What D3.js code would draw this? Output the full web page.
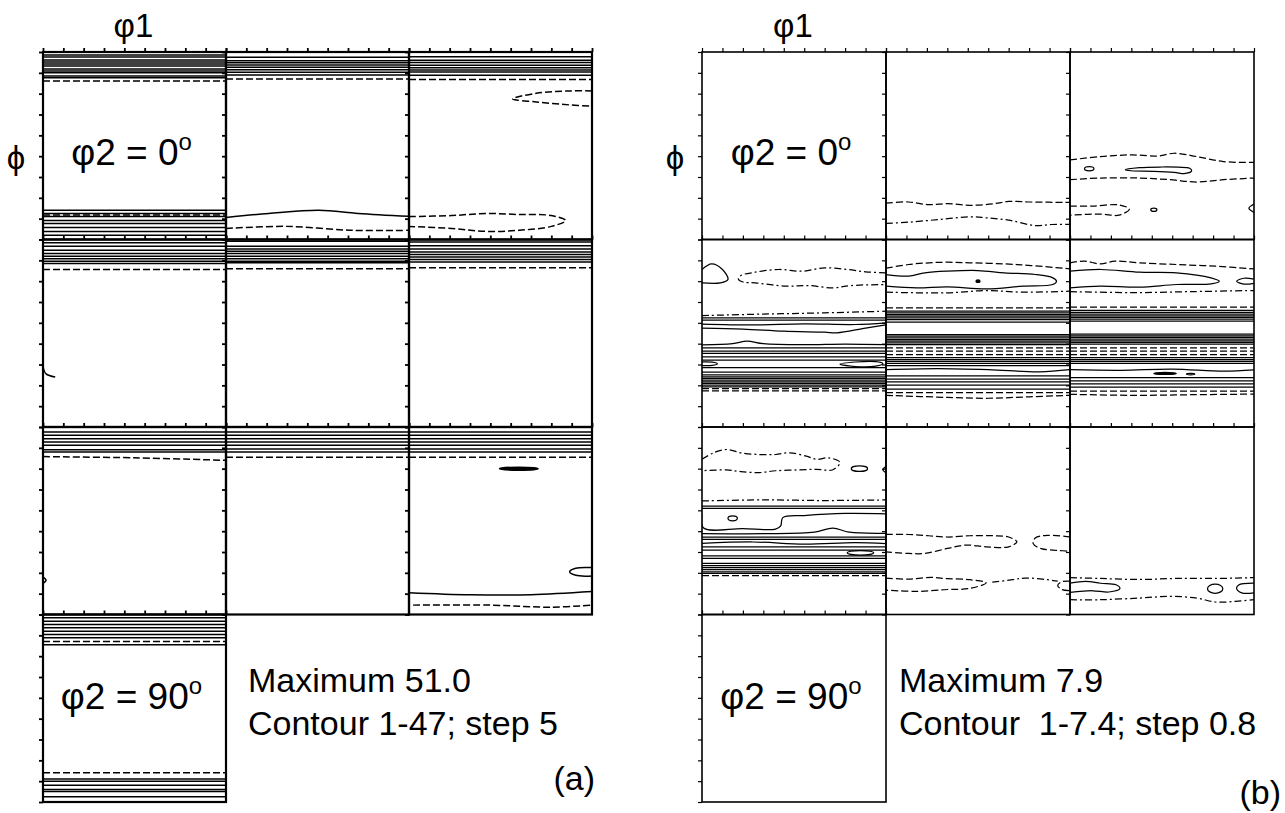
<!DOCTYPE html>
<html><head><meta charset="utf-8">
<script src="https://cdn.jsdelivr.net/npm/d3@7"></script>
<style>
body{margin:0;background:#fff}
svg{display:block}
text{font-family:"Liberation Sans",Arial,Helvetica,sans-serif;fill:#000}
</style>
</head><body>
<svg id="c" width="1285" height="813"></svg>
<script>
// ================= DATA =================
// phi2 sections (degrees), 10 per panel: 3x3 grid + one extra cell
const sectionsPhi2 = [0, 10, 20, 30, 40, 50, 60, 70, 80, 90];
// tick positions (degrees) for phi1 (top) and Phi (left) of every section
const tickValues = [0, 10, 20, 30, 40, 50, 60, 70, 80, 90];
const axisTopLabels = ["φ1", "φ1"];
const axisLeftLabels = ["ϕ", "ϕ"];
const maximumLabels = ["Maximum 51.0", "Maximum 7.9"];
const contourLabels = ["Contour 1-47; step 5", "Contour  1-7.4; step 0.8"];
const panelLetters = ["(a)", "(b)"];

// ---- Panel (a): straight (constant Phi) contour levels, per section ----
// st: s = solid, d = dashed
const aLevels = [
  {s: 0,  st: "s", v: [1.4, 2.4, 3.8, 4.8, 5.7, 6.7, 8.1, 9.1, 10, 11.5, 12.4, 76, 77.5, 79, 80.9, 82.3, 84.2, 86.1, 88]},
  {s: 0,  st: "d", v: [13.9, 78.2]},
  {s: 10, st: "s", v: [2.5, 4.2, 5.2, 6.2, 7.3, 8.5, 9.7, 11]},
  {s: 10, st: "d", v: [12.9]},
  {s: 20, st: "s", v: [2.3, 4, 5, 6.3, 7.5, 8.6, 9.6, 11.2]},
  {s: 20, st: "d", v: [13.2]},
  {s: 30, st: "s", v: [1.6, 3.2, 5.1, 6.7, 8, 9.2, 10.4, 11.5]},
  {s: 30, st: "d", v: [14.4]},
  {s: 40, st: "s", v: [0.8, 3.2, 4.5, 5.6, 6.7, 8, 9.2, 10.4, 11.1]},
  {s: 40, st: "d", v: [14]},
  {s: 50, st: "s", v: [1.2, 3, 4.6, 6, 7.2, 8.4, 9.6, 10.8]},
  {s: 50, st: "d", v: [13.6]},
  {s: 60, st: "s", v: [2.4, 4, 5.6, 7.2, 8.8, 10.9, 12]},
  {s: 70, st: "s", v: [2.4, 4, 5.6, 7.2, 8.8, 10.5, 12]},
  {s: 70, st: "d", v: [14.5]},
  {s: 80, st: "s", v: [2.4, 4, 5.6, 7.2, 8.8, 10.5, 12]},
  {s: 80, st: "d", v: [14.5]},
  {s: 90, st: "s", v: [1.6, 3.2, 4.8, 6.4, 8, 9.6, 11.2, 14.5, 79, 80, 82, 84, 85, 87.5]},
  {s: 90, st: "d", v: [12.9, 76]}
];
// curved contour lines of panel (a): points are [phi1, Phi]
const aPaths = [
  {s: 10, st: "s", c: false, p: [[0, 79.4], [21, 77.5], [45.7, 76], [65, 77.5], [90, 78.9]]},
  {s: 10, st: "d", c: false, p: [[0, 84.7], [29.5, 83.7], [62, 85.6], [90, 85.6]]},
  {s: 20, st: "d", c: false, p: [[0, 79], [21, 78.5], [38, 77.5], [54, 78], [70, 78.5], [77, 80.9], [70, 83.7], [54, 85.6], [38, 86.1], [21, 84.7], [0, 83.7]]},
  {s: 20, st: "d", c: false, p: [[90, 18.7], [79, 18.7], [62.6, 19.8], [51, 22.5], [62.6, 24], [79, 25.4], [90, 26]]},
  {s: 30, st: "s", c: false, p: [[0, 61], [1.5, 64.5], [6, 66]]},
  {s: 60, st: "d", c: false, p: [[0, 14.2], [45, 14.8], [90, 16]]},
  {s: 60, st: "s", c: false, p: [[0, 72], [1.5, 73.5], [0, 75]]},
  {s: 80, st: "s", c: false, p: [[90, 67.5], [82, 67.8], [79, 69.5], [82, 71.2], [90, 71.5]]},
  {s: 80, st: "s", c: false, p: [[0, 79.5], [30, 80.5], [60, 80.5], [90, 79]]},
  {s: 80, st: "d", c: false, p: [[2, 85.5], [40, 85.5], [70, 86.5], [90, 85.5]]}
];
// small closed contours of panel (a): centre [phi1, Phi], radii in degrees
const aEllipses = [
  {s: 80, st: "f", cx: 54, cy: 20, rx: 9.5, ry: 0.7}
];

// ---- Panel (b) ----
const bLevels = [
  {s: 30, st: "s", v: [37.6, 38.7, 52, 53.6, 54.7, 56.3, 57.9, 61.5, 63.6, 65, 65.9, 66.7, 67.5, 68.3, 69.1, 69.9, 70.7]},
  {s: 30, st: "d", v: [71.6, 72.7]},
  {s: 40, st: "d", v: [32.8, 52, 53.6, 55.2]},
  {s: 40, st: "s", v: [34.4, 35.2, 36, 36.8, 37.6, 38.4, 39.6, 45.6, 46.4, 47.2, 48, 48.8, 49.6, 50.4, 56.7, 57.6, 58.5, 59.5, 60.5, 65.5, 67, 68.3, 69.9, 71.8]},
  {s: 40, st: "d", v: [73.5]},
  {s: 50, st: "d", v: [32.5, 52, 53.6, 55.2, 72.8]},
  {s: 50, st: "s", v: [34, 35, 35.8, 36.6, 37.4, 38.2, 39.2, 45.4, 46.2, 47, 47.8, 48.6, 49.4, 50.2, 56.7, 57.6, 58.5, 59.5, 66.3, 67.8, 69.3, 70.8]},
  {s: 60, st: "s", v: [38, 39, 52.8, 53.9, 57.5, 59.1, 61.8, 63, 65.4, 66.5, 67.5, 68.5, 69.5, 70.2]},
  {s: 60, st: "d", v: [71.3]}
];
const bPaths = [
  // phi2 = 10
  {s: 10, st: "d", c: false, p: [[0, 72.5], [11, 72], [21, 73.3], [30, 72.8], [41, 73.6], [53, 72.8], [60, 71.7], [71, 72], [90, 72.2]]},
  {s: 10, st: "dd", c: false, p: [[0, 82.3], [11, 81.7], [26, 80.4], [41, 79.1], [49, 79.6], [60, 80.7], [73, 83.3], [81, 82.8], [90, 82.8]]},
  // phi2 = 20
  {s: 20, st: "d", c: false, p: [[0, 51.8], [15, 50.2], [30, 49.4], [43, 49.9], [51, 48.6], [62, 50.2], [75, 52.6], [90, 53]]},
  {s: 20, st: "d", c: false, p: [[0, 61.3], [15, 60.5], [34, 60.5], [49, 61.3], [62, 62.4], [75, 61.3], [90, 60.5]]},
  {s: 20, st: "s", c: true, p: [[27, 56.5], [34, 55.5], [45, 55.2], [53, 55.3], [58.5, 55.8], [59.5, 57], [56.5, 58.3], [51, 57.8], [41, 57.3], [30, 57]]},
  {s: 20, st: "d", c: false, p: [[0, 74], [11, 74], [24, 73.4], [29, 75.4], [24, 78.3], [15, 77.8], [0, 78.3]]},
  {s: 20, st: "s", c: false, p: [[90, 73], [87.5, 75], [90, 77]]},
  // phi2 = 30
  {s: 30, st: "s", c: false, p: [[0, 14.4], [4.7, 11.7], [10, 14.4], [12.7, 19.2], [9, 20.8], [0, 20.8]]},
  {s: 30, st: "dd", c: false, p: [[90, 16], [80, 15.5], [71, 14.4], [60, 13.6], [49, 15.2], [37.5, 14.4], [26, 15.7], [19, 17.3], [17.8, 19], [20, 20.4], [26, 20.8], [41, 22.4], [52, 22.1], [64, 23.2], [73, 22.1], [90, 21.6]]},
  {s: 30, st: "dd", c: false, p: [[0, 36.5], [30, 35.8], [60, 35.2], [90, 34.4]]},
  {s: 30, st: "s", c: false, p: [[0, 40.6], [25, 41], [50, 40.5], [75, 40.8], [90, 40]]},
  {s: 30, st: "s", c: false, p: [[0, 42.5], [20, 43], [40, 44], [60, 44.5], [66, 44.8], [80, 42.5], [90, 41]]},
  {s: 30, st: "s", c: false, p: [[0, 50.6], [15, 50], [22, 48.8], [30, 50], [50, 50.5], [70, 50.2], [90, 50.5]]},
  {s: 30, st: "s", c: false, p: [[0, 58.8], [5, 58.9], [7.5, 59.6], [5, 60.4], [0, 60.5]]},
  {s: 30, st: "s", c: true, p: [[67.5, 59.8], [75, 58.8], [85, 58.6], [88.5, 59.5], [85, 60.8], [75, 61]]},
  // phi2 = 40
  {s: 40, st: "d", c: false, p: [[0, 13.8], [11, 12], [21, 11.2], [30, 10.9], [41, 11.2], [58, 11.7], [71, 12.5], [90, 14.1]]},
  {s: 40, st: "s", c: false, p: [[0, 16.8], [11, 17.6], [19, 16], [30, 15.2], [45, 14.9], [58, 16], [73, 16.8], [81.6, 18.4], [83.4, 20], [81.6, 21.6], [67, 22.4], [49, 23.7], [30, 22.7], [15, 23.2], [0, 22.4]]},
  {s: 40, st: "dd", c: false, p: [[0, 25.3], [30, 25.6], [49, 24.5], [67, 25.3], [90, 24.8]]},
  {s: 40, st: "s", c: false, p: [[0, 62.5], [25, 62], [50, 62.5], [75, 63.5], [90, 62.5]]},
  {s: 40, st: "d", c: false, p: [[0, 74.8], [30, 75.8], [50, 76.2], [70, 75.5], [90, 74.8]]},
  // phi2 = 50
  {s: 50, st: "d", c: false, p: [[0, 11.2], [7, 10.4], [15, 11.7], [22, 10.4], [34, 11.2], [52, 12], [71, 12.8], [90, 14.1]]},
  {s: 50, st: "s", c: false, p: [[0, 15.2], [15, 14.4], [34, 15.7], [52, 16], [69, 18.4], [73, 20], [69, 21.3], [52, 21.6], [34, 22.9], [15, 22.4], [0, 23.2]]},
  {s: 50, st: "s", c: false, p: [[90, 19], [85, 18.6], [81.5, 20], [85, 21.4], [90, 21]]},
  {s: 50, st: "dd", c: false, p: [[0, 25], [30, 25.5], [60, 25], [90, 24.5]]},
  {s: 50, st: "s", c: false, p: [[0, 62.5], [25, 62.8], [50, 62.2], [75, 63.2], [90, 62.6]]},
  {s: 50, st: "d", c: false, p: [[0, 74.3], [30, 74.8], [60, 74.5], [90, 74.2]]},
  // phi2 = 60
  {s: 60, st: "dd", c: false, p: [[0, 15.5], [5.6, 12.4], [12, 10.8], [19, 12.4], [28, 13.2], [36, 13.2], [43, 12.4], [51, 14], [56, 15.5], [62, 14.8], [67.5, 17], [64, 20.5], [56, 20.3], [47, 20.6], [36, 21], [28, 21.9], [19, 21.4], [12, 20.6], [0, 21]]},
  {s: 60, st: "s", c: false, p: [[90, 19], [88.5, 20.5], [90, 22]]},
  {s: 60, st: "dd", c: false, p: [[0, 35.5], [30, 35], [60, 35.3], [90, 35]]},
  {s: 60, st: "s", c: false, p: [[0, 42], [0.8, 48.5], [20, 48.8], [36, 49], [38.5, 47.5], [39.5, 43.5], [50, 42.5], [70, 41.5], [90, 41.7]]},
  {s: 60, st: "s", c: false, p: [[0, 51.2], [30, 51.2], [55, 50.5], [64, 48.5], [72, 50.5], [90, 51]]},
  {s: 60, st: "s", c: false, p: [[0, 55.9], [25, 55.2], [50, 56.2], [75, 55.5], [90, 56]]},
  // phi2 = 70
  {s: 70, st: "d", c: false, p: [[0, 51.6], [11, 51.6], [21, 52.2], [30, 52.8], [41, 52.2], [52.5, 52.2], [60, 52.8], [64, 55.1], [60, 57.5], [49, 57.5], [39, 56.7], [30, 58.3], [19, 60.7], [11, 60.7], [0, 59.9]]},
  {s: 70, st: "d", c: false, p: [[90, 52.8], [79, 52], [73, 53.3], [72, 56], [76, 58.4], [84, 59.2], [90, 59.7]]},
  {s: 70, st: "d", c: false, p: [[0, 72.5], [11, 73], [22, 72.2], [30, 72.8], [41, 73.3], [49, 74.8], [41, 77.5], [30, 78], [15, 78.9], [0, 78.3]]},
  {s: 70, st: "dd", c: false, p: [[52, 74.5], [62, 73.3], [68, 72.5], [79, 73.3], [84, 74]]},
  {s: 70, st: "d", c: false, p: [[90, 74], [86, 74.3], [84, 76], [86, 78], [90, 78.5]]},
  // phi2 = 80
  {s: 80, st: "dd", c: false, p: [[0, 72.3], [15, 72.7], [34, 73.2], [52, 72.7], [71, 72.7], [90, 72.3]]},
  {s: 80, st: "s", c: false, p: [[0, 75], [7.5, 74.1], [15, 75], [22.5, 75.7], [24.4, 77.6], [19, 79.2], [11, 78.6], [0, 79.4]]},
  {s: 80, st: "s", c: false, p: [[90, 75], [82.5, 75.8], [81.5, 77.6], [84, 79.6], [90, 79.6]]},
  {s: 80, st: "dd", c: false, p: [[0, 82.9], [15, 82.9], [34, 82.1], [49, 81.3], [62, 82.1], [71, 84], [81, 83.7], [90, 82.9]]}
];
const bEllipses = [
  {s: 20, st: "s", cx: 9.4, cy: 56, rx: 2.3, ry: 1},
  {s: 20, st: "s", cx: 41, cy: 75.7, rx: 1.5, ry: 0.8},
  {s: 40, st: "f", cx: 45, cy: 20, rx: 1, ry: 0.6},
  {s: 50, st: "f", cx: 46.5, cy: 64.3, rx: 5.5, ry: 0.5},
  {s: 50, st: "s", cx: 59, cy: 64.6, rx: 2, ry: 0.4},
  {s: 60, st: "s", cx: 77, cy: 20, rx: 4, ry: 1.3},
  {s: 60, st: "s", cx: 15, cy: 43.8, rx: 2.3, ry: 1.2},
  {s: 60, st: "s", cx: 77.5, cy: 60.4, rx: 6.5, ry: 1.1},
  {s: 80, st: "s", cx: 71, cy: 77.6, rx: 3.75, ry: 2.2}
];

// ================= DRAW =================
const svg = d3.select("#c");
const dashes = {s: null, d: "7,3", dd: "7,3,2,3", f: null};

const panels = [
  {x0: 43,  cw: 183, lw: 1.5, bw: 2.2, tw: 1.8, levels: aLevels, paths: aPaths, ells: aEllipses},
  {x0: 702, cw: 184, lw: 1.25, bw: 1.6, tw: 1.2, levels: bLevels, paths: bPaths, ells: bEllipses}
];
const y0 = 52, ch = 187.5;

panels.forEach((P, pi) => {
  const xs = d3.scaleLinear().domain([0, 90]).range([0, P.cw]);
  const ys = d3.scaleLinear().domain([0, 90]).range([0, ch]);
  const line = d3.line().x(d => xs(d[0])).y(d => ys(d[1])).curve(d3.curveCatmullRom.alpha(0.5));
  const lineC = d3.line().x(d => xs(d[0])).y(d => ys(d[1])).curve(d3.curveCatmullRomClosed.alpha(0.5));

  sectionsPhi2.forEach((s, i) => {
    const col = i < 9 ? i % 3 : 0;
    const row = i < 9 ? Math.floor(i / 3) : 3;
    const gx = P.x0 + col * P.cw, gy = y0 + row * ch;
    const g = svg.append("g").attr("transform", `translate(${gx},${gy})`);
    const cid = `clip${pi}_${i}`;
    g.append("clipPath").attr("id", cid).append("rect")
      .attr("x", 0).attr("y", 0).attr("width", P.cw).attr("height", ch);
    const cg = g.append("g").attr("clip-path", `url(#${cid})`)
      .attr("fill", "none").attr("stroke", "#000").attr("stroke-width", P.lw);

    P.levels.filter(l => l.s === s).forEach(l => {
      l.v.forEach(v => {
        cg.append("path").attr("d", line([[0, v], [90, v]]))
          .attr("stroke-dasharray", dashes[l.st]);
      });
    });
    P.paths.filter(l => l.s === s).forEach(l => {
      cg.append("path").attr("d", (l.c ? lineC : line)(l.p))
        .attr("stroke-dasharray", dashes[l.st]);
    });
    P.ells.filter(e => e.s === s).forEach(e => {
      cg.append("ellipse")
        .attr("cx", xs(e.cx)).attr("cy", ys(e.cy))
        .attr("rx", xs(e.rx) - xs(0)).attr("ry", ys(e.ry) - ys(0))
        .attr("fill", e.st === "f" ? "#000" : "none")
        .attr("stroke-dasharray", dashes[e.st]);
    });

    g.append("rect").attr("width", P.cw).attr("height", ch)
      .attr("fill", "none").attr("stroke", "#000").attr("stroke-width", P.bw);

    const ax1 = g.append("g").call(d3.axisLeft(ys).tickValues(tickValues).tickSize(4).tickFormat(""));
    const ax2 = g.append("g").call(d3.axisTop(xs).tickValues(tickValues).tickSize(4).tickFormat(""));
    [ax1, ax2].forEach(a => {
      a.select(".domain").remove();
      a.selectAll("line").attr("stroke", "#000").attr("stroke-width", P.tw);
    });

    if (s === 0 || s === 90) {
      const t = g.append("text")
        .attr("x", P.cw / 2 - 3).attr("y", s === 0 ? 113 : 94)
        .attr("text-anchor", "middle").attr("font-size", 37);
      t.append("tspan").text(`φ2 = ${s}`);
      t.append("tspan").text("o").attr("font-size", 24).attr("dy", -15);
    }
  });

  svg.append("text").attr("x", P.x0 + P.cw / 2 - 1).attr("y", 37)
    .attr("text-anchor", "middle").attr("font-size", 33).text(axisTopLabels[pi]);
  svg.append("text").attr("x", P.x0 - 27).attr("y", 169)
    .attr("text-anchor", "middle").attr("font-size", 33).text(axisLeftLabels[pi]);

  const tx = P.x0 + P.cw + (pi === 0 ? 22 : 13);
  svg.append("text").attr("x", tx).attr("y", 692).attr("font-size", 34).text(maximumLabels[pi]);
  svg.append("text").attr("x", tx).attr("y", 735).attr("font-size", 34)
    .attr("xml:space", "preserve").style("white-space", "pre").text(contourLabels[pi]);
  svg.append("text").attr("x", pi === 0 ? 595 : 1281).attr("y", pi === 0 ? 790 : 804)
    .attr("text-anchor", "end").attr("font-size", 34).text(panelLetters[pi]);
});
</script>
</body></html>
